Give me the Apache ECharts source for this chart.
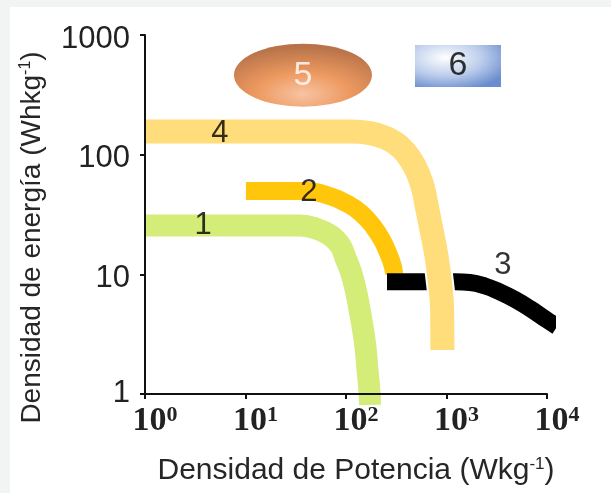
<!DOCTYPE html>
<html>
<head>
<meta charset="utf-8">
<script src="https://cdn.jsdelivr.net/npm/echarts@6/dist/echarts.min.js"></script>
<style>
  html, body { margin: 0; padding: 0; background: #fff; }
  #chart { width: 611px; height: 493px; }
</style>
</head>
<body>
<div id="chart"></div>
<script>
// curva 1 (verde)
const curve1 = [[1, 25.6], [34.9, 25.6], [50.3, 24.1], [69.3, 21.3], [87.1, 17.6], [98.9, 13.7],
  [112.2, 10.45], [125, 7.39], [136.8, 5.03], [154.5, 2.67], [163.7, 1.59], [171.4, 1.04], [173.3, 0.81]]
// curva 2 (naranja)
const curve2 = [[10.1, 49.6], [39.1, 49.6], [69.3, 45.1], [102.3, 39.0], [141, 32.5], [185.6, 25.3],
  [228, 19.4], [264.8, 14.8], [290.2, 11.96], [301.8, 10.06]]
// curva 3 (negra)
const curve3 = [[255.9, 8.65], [1216, 8.65], [1714, 8.54], [2415, 7.99], [3404, 7.11], [4808, 6.16],
  [6776, 5.18], [10000, 4.15], [12590, 3.66]]
// curva 4 (amarilla)
const curve4 = [[1, 156], [109.6, 156], [173.3, 151.5], [244.4, 139], [344.6, 116.4], [443.2, 90.2],
  [528.8, 67.6], [590.6, 50.6], [632.7, 37.9], [709.6, 23.4], [792.1, 14.5], [860, 8.6],
  [905, 5.03], [910, 2.33]]

const curveLabels = ['1', '2', '3', '4']
const curveLabelPos = [[3.78, 25.8], [42.8, 48.7], [3648, 11.96], [5.57, 151.5]]

const shapeLabels = ['5', '6']
const shapePos = [[37.3, 462], [1301, 550]]

const chart = echarts.init(document.getElementById('chart'))

const band = (data, color, width, z) => ({
  type: 'line',
  data: data,
  showSymbol: false,
  symbol: 'none',
  smooth: 0.45,
  clip: true,
  silent: true,
  z: z,
  lineStyle: { color: color, width: width, cap: 'butt', join: 'round' }
})

const ellipsePath = 'path://M0,50 A50,50 0 1,1 100,50 A50,50 0 1,1 0,50 Z'

const option = {
  animation: false,
  backgroundColor: '#ffffff',
  graphic: [
    { type: 'rect', left: 0, top: 0, shape: { width: 10, height: 493 }, style: { fill: '#f2f4f3' } },
    { type: 'rect', left: 0, top: 0, shape: { width: 611, height: 7 }, style: { fill: '#f2f4f3' } }
  ],
  grid: { left: 145, right: 64, top: 35, bottom: 99 },
  xAxis: {
    type: 'log',
    logBase: 10,
    min: 1,
    max: 10000,
    z: 10,
    name: 'Densidad de Potencia (Wkg{s|-1})',
    nameLocation: 'middle',
    nameGap: 62,
    nameTextStyle: {
      fontFamily: 'Liberation Sans, Arial',
      fontSize: 30,
      color: '#262626',
      padding: [0, 0, 0, 20],
      rich: { s: { fontSize: 17, verticalAlign: 'top', fontFamily: 'Liberation Sans, Arial', color: '#262626' } }
    },
    axisLine: { lineStyle: { color: '#111', width: 2 } },
    axisTick: { show: true, length: 5, lineStyle: { color: '#111', width: 2 } },
    minorTick: { show: false },
    splitLine: { show: false },
    axisLabel: {
      margin: 10,
      padding: [0, 0, 0, 20],
      formatter: v => '{b|10}{s|' + Math.round(Math.log10(v)) + '}',
      rich: {
        b: { fontFamily: 'Liberation Serif', fontWeight: 'bold', fontSize: 34, color: '#222' },
        s: { fontFamily: 'Liberation Serif', fontWeight: 'bold', fontSize: 22, color: '#222', verticalAlign: 'top' }
      }
    }
  },
  yAxis: {
    type: 'log',
    logBase: 10,
    min: 1,
    max: 1000,
    z: 10,
    name: 'Densidad de energía (Whkg{s|-1})',
    nameLocation: 'middle',
    nameGap: 99,
    nameRotate: 90,
    nameTextStyle: {
      fontFamily: 'Liberation Sans, Arial',
      fontSize: 28,
      color: '#262626',
      padding: [0, 46, 0, 0],
      rich: { s: { fontSize: 16, verticalAlign: 'top', fontFamily: 'Liberation Sans, Arial', color: '#262626' } }
    },
    axisLine: { lineStyle: { color: '#111', width: 2 } },
    axisTick: { show: true, length: 5, lineStyle: { color: '#111', width: 2 } },
    minorTick: { show: false },
    splitLine: { show: false },
    axisLabel: {
      margin: 15,
      formatter: v => (Math.round(v) === 1 ? '{u|1}' : '{n|' + Math.round(v) + '}'),
      rich: {
        n: { fontFamily: 'Liberation Sans, Arial', fontSize: 31, color: '#222', padding: [8, 0, 0, 0] },
        u: { fontFamily: 'Liberation Sans, Arial', fontSize: 31, color: '#222', padding: [0, 0, 2, 0] }
      }
    }
  },
  series: [
    band(curve1, '#d4ec78', 22, 2),
    band(curve2, '#ffc60c', 18, 2),
    band(curve3, '#000000', 17, 2),
    // borde blanco de la curva 4 sobre la 3
    band(curve4, '#ffffff', 28, 3),
    band(curve4, '#ffdd7a', 24, 4),
    {
      type: 'scatter',
      silent: true,
      z: 6,
      data: curveLabels.map((t, i) => ({ name: t, value: curveLabelPos[i] })),
      symbolSize: 1,
      itemStyle: { color: 'transparent' },
      label: {
        show: true,
        position: 'inside',
        formatter: p => p.name,
        fontFamily: 'Liberation Sans, Arial',
        fontSize: 31,
        color: '#000'
      }
    },
    {
      type: 'scatter',
      silent: true,
      z: 6,
      data: [
        {
          name: shapeLabels[0],
          value: shapePos[0],
          symbol: ellipsePath,
          symbolSize: [138, 63],
          itemStyle: {
            color: new echarts.graphic.RadialGradient(0.5, 0.8, 0.75, [
              { offset: 0, color: '#f6b48c' },
              { offset: 0.45, color: '#e98038' },
              { offset: 1, color: '#a6501c' }
            ])
          },
          label: { color: '#ffffff' }
        },
        {
          name: shapeLabels[1],
          value: shapePos[1],
          symbol: 'rect',
          symbolSize: [86, 42],
          itemStyle: {
            color: new echarts.graphic.RadialGradient(0.35, 0.3, 0.8, [
              { offset: 0, color: '#ffffff' },
              { offset: 0.55, color: '#a9bfe6' },
              { offset: 1, color: '#4470c2' }
            ])
          },
          label: { color: '#000000' }
        }
      ],
      label: {
        show: true,
        position: 'inside',
        formatter: p => p.name,
        fontFamily: 'Liberation Sans, Arial',
        fontSize: 34
      }
    }
  ]
}

chart.setOption(option)
</script>
</body>
</html>
